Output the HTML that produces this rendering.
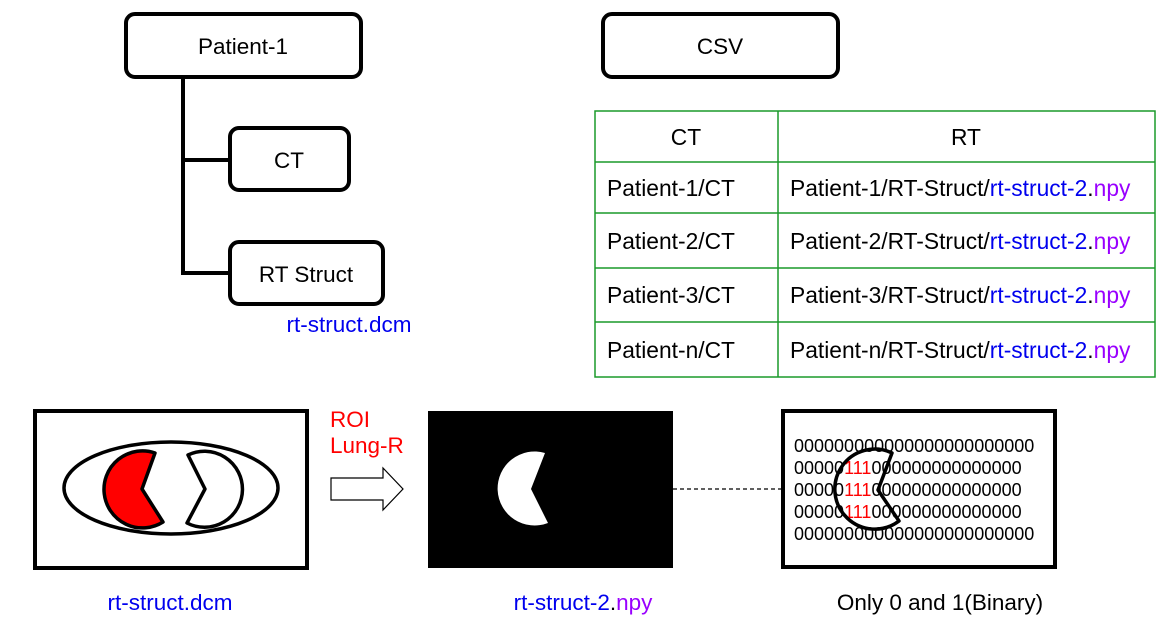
<!DOCTYPE html>
<html><head><meta charset="utf-8"><style>
body{margin:0;background:#fff;}
svg{display:block;font-family:"Liberation Sans",Arial,sans-serif;}
</style></head><body>
<svg width="1163" height="626" viewBox="0 0 1163 626" xmlns="http://www.w3.org/2000/svg">
<g fill="none" stroke="#000" stroke-width="4">
<rect x="126" y="14" width="235" height="63" rx="9"/>
<rect x="603" y="14" width="235" height="63" rx="9"/>
<rect x="230" y="128" width="119" height="62" rx="9"/>
<rect x="230" y="242" width="153" height="62" rx="9"/>
<path d="M183 77 V273 H230 M183 160 H230"/>
</g>
<g font-size="22.5" text-anchor="middle" fill="#000">
<text x="243" y="54">Patient-1</text>
<text x="720" y="54">CSV</text>
<text x="289" y="168">CT</text>
<text x="306" y="282">RT Struct</text>
</g>
<text x="349" y="332" font-size="22.5" fill="#0000ee" text-anchor="middle">rt-struct.dcm</text>
<!-- table -->
<g stroke="#1a9a2a" stroke-width="1.5" fill="none">
<rect x="595" y="111" width="560" height="266"/>
<path d="M778 111 V377 M595 162 H1155 M595 213 H1155 M595 268 H1155 M595 322 H1155"/>
</g>
<g font-size="22.8" fill="#000">
<text x="686" y="145" text-anchor="middle">CT</text>
<text x="966" y="145" text-anchor="middle">RT</text>
<text x="607" y="196">Patient-1/CT</text>
<text x="607" y="249">Patient-2/CT</text>
<text x="607" y="303">Patient-3/CT</text>
<text x="607" y="358">Patient-n/CT</text>
<text x="790" y="196">Patient-1/RT-Struct/<tspan fill="#0000ee">rt-struct-2</tspan>.<tspan fill="#9900ff">npy</tspan></text>
<text x="790" y="249">Patient-2/RT-Struct/<tspan fill="#0000ee">rt-struct-2</tspan>.<tspan fill="#9900ff">npy</tspan></text>
<text x="790" y="303">Patient-3/RT-Struct/<tspan fill="#0000ee">rt-struct-2</tspan>.<tspan fill="#9900ff">npy</tspan></text>
<text x="790" y="358">Patient-n/RT-Struct/<tspan fill="#0000ee">rt-struct-2</tspan>.<tspan fill="#9900ff">npy</tspan></text>
</g>
<!-- bottom left -->
<rect x="35" y="411" width="272" height="157" fill="none" stroke="#000" stroke-width="4"/>
<ellipse cx="171" cy="488" rx="107" ry="46" fill="none" stroke="#000" stroke-width="3.5"/>
<path d="M155 453 A38.5 38.5 0 1 0 163 522 L142 489 Z" fill="#ff0000" stroke="#000" stroke-width="3.5" stroke-linejoin="round"/>
<path d="M188 455 L205 489 L187 523 A38 38 0 1 0 188 455 Z" fill="#fff" stroke="#000" stroke-width="3.5" stroke-linejoin="round"/>
<text x="330" y="427" font-size="22.5" fill="#ff0000">ROI</text>
<text x="330" y="453" font-size="22.5" fill="#ff0000">Lung-R</text>
<path d="M331 478 H383 V468 L403 489 L383 510 V500 H331 Z" fill="#fff" stroke="#000" stroke-width="1.2"/>
<!-- black box -->
<rect x="428" y="411" width="245" height="157" fill="#000"/>
<path d="M545 453 A37 37 0 1 0 548 523 L531 489 Z" fill="#fff"/>
<line x1="673" y1="489" x2="783" y2="489" stroke="#000" stroke-width="1.2" stroke-dasharray="4,3"/>
<!-- binary box -->
<rect x="783" y="411" width="272" height="156" fill="none" stroke="#000" stroke-width="4"/>
<g font-size="18" fill="#000">
<text x="794" y="452">000000000000000000000000</text>
<text x="794" y="474">00000<tspan fill="#ff0000">111</tspan>000000000000000</text>
<text x="794" y="496">00000<tspan fill="#ff0000">111</tspan>000000000000000</text>
<text x="794" y="518">00000<tspan fill="#ff0000">111</tspan>000000000000000</text>
<text x="794" y="540">000000000000000000000000</text>
</g>
<path d="M892 453 A40 40 0 1 0 899 521 L878 490 Z" fill="none" stroke="#000" stroke-width="3.5" stroke-linejoin="round"/>
<g font-size="22.5" text-anchor="middle">
<text x="170" y="610" fill="#0000ee">rt-struct.dcm</text>
<text x="583" y="610"><tspan fill="#0000ee">rt-struct-2</tspan>.<tspan fill="#9900ff">npy</tspan></text>
<text x="940" y="610" fill="#000">Only 0 and 1(Binary)</text>
</g>
</svg>
</body></html>
